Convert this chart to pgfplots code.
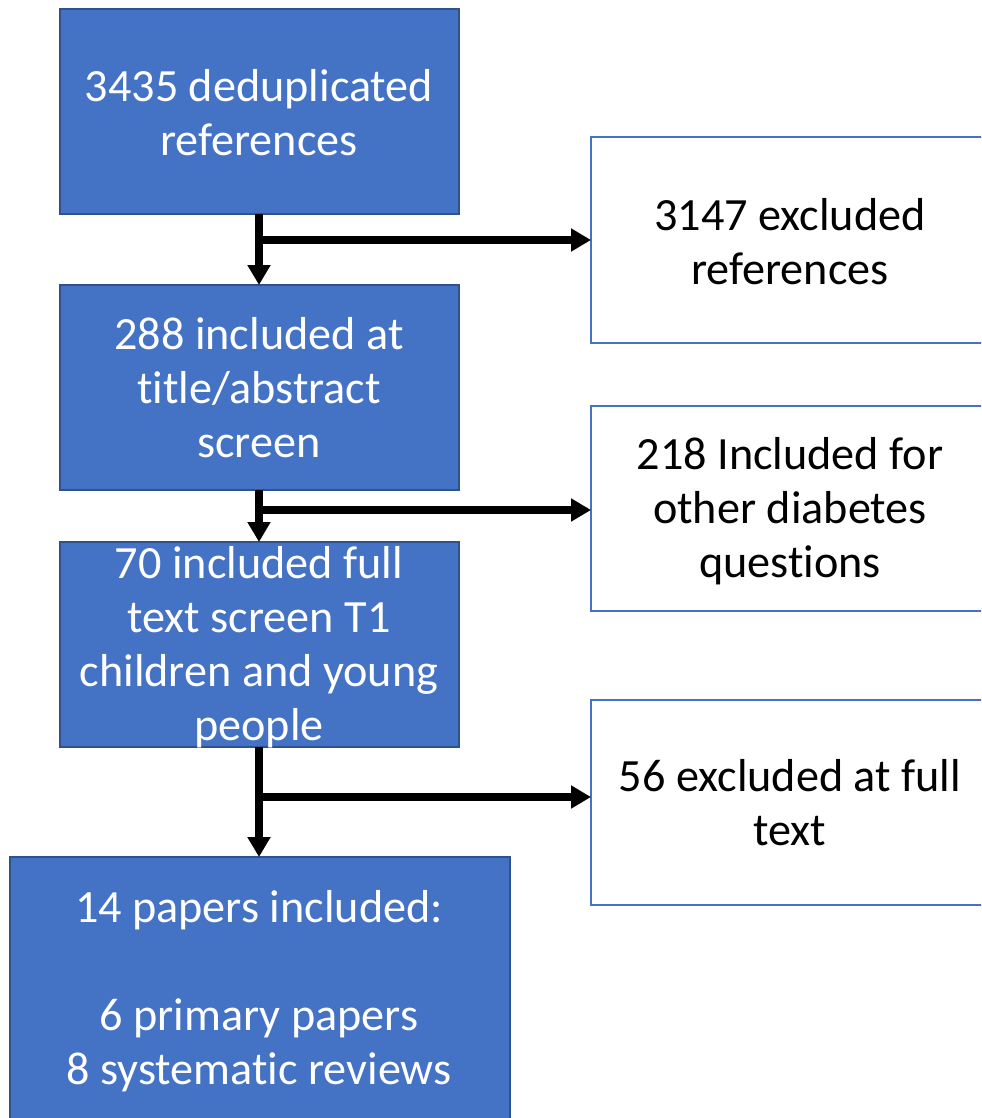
\documentclass[border=0pt]{standalone}
\usepackage{pgfplots}
\pgfplotsset{compat=1.18}
\usepackage{fontspec}
\setmainfont{Carlito}[Ligatures={NoCommon}]
\usetikzlibrary{arrows.meta}
\definecolor{boxblue}{HTML}{4472C4}
\definecolor{boxedge}{HTML}{2F528F}
\begin{document}
\begin{tikzpicture}
\begin{axis}[
  scale only axis, width=490.5pt, height=559pt,
  xmin=0, xmax=981, ymin=0, ymax=1118, y dir=reverse,
  hide axis, clip=true,
]
% background
\addplot[draw=none, fill=white] coordinates {(0,0) (981,0) (981,1118) (0,1118)} -- cycle;
% blue boxes
\addplot[fill=boxblue, draw=boxedge, line width=1pt] coordinates {(60,9) (459,9) (459,214) (60,214)} -- cycle;
\addplot[fill=boxblue, draw=boxedge, line width=1pt] coordinates {(60,285) (459,285) (459,490) (60,490)} -- cycle;
\addplot[fill=boxblue, draw=boxedge, line width=1pt] coordinates {(60,542) (459,542) (459,747) (60,747)} -- cycle;
\addplot[fill=boxblue, draw=boxedge, line width=1pt] coordinates {(10,857) (510,857) (510,1130) (10,1130)} -- cycle;
% white boxes
\addplot[fill=white, draw=boxblue, line width=1pt] coordinates {(591,137) (995,137) (995,343) (591,343)} -- cycle;
\addplot[fill=white, draw=boxblue, line width=1pt] coordinates {(591,406) (995,406) (995,611) (591,611)} -- cycle;
\addplot[fill=white, draw=boxblue, line width=1pt] coordinates {(591,700) (995,700) (995,905) (591,905)} -- cycle;
% arrows
\addplot[black, line width=3.85pt, -{Triangle[width=11pt,length=10pt]}] coordinates {(259,214) (259,285)};
\addplot[black, line width=3.85pt, -{Triangle[width=11pt,length=10pt]}] coordinates {(257.1,240) (591,240)};
\addplot[black, line width=3.85pt, -{Triangle[width=11pt,length=10pt]}] coordinates {(259,490) (259,542)};
\addplot[black, line width=3.85pt, -{Triangle[width=11pt,length=10pt]}] coordinates {(257.1,510) (591,510)};
\addplot[black, line width=3.85pt, -{Triangle[width=11pt,length=10pt]}] coordinates {(259,747) (259,857)};
\addplot[black, line width=3.85pt, -{Triangle[width=11pt,length=10pt]}] coordinates {(257.1,797) (591,797)};
% texts
\tikzset{bt/.style={font=\fontsize{23.1}{27}\selectfont, align=center, inner sep=0pt}}
\node[bt, text=white] at (axis cs:259,113) {3435 deduplicated\\references};
\node[bt, text=white] at (axis cs:259,388) {288 included at\\title/abstract\\screen};
\node[bt, text=white] at (axis cs:259,647) {70 included full\\text screen T1\\children and young\\people};
\node[bt, text=white] at (axis cs:259,991) {14 papers included:\\[27pt]6 primary papers\\8 systematic reviews};
\node[bt, text=black] at (axis cs:790,242) {3147 excluded\\references};
\node[bt, text=black] at (axis cs:790,511) {218 Included for\\other diabetes\\questions};
\node[bt, text=black] at (axis cs:790,803) {56 excluded at full\\text};
\end{axis}
\end{tikzpicture}
\end{document}
